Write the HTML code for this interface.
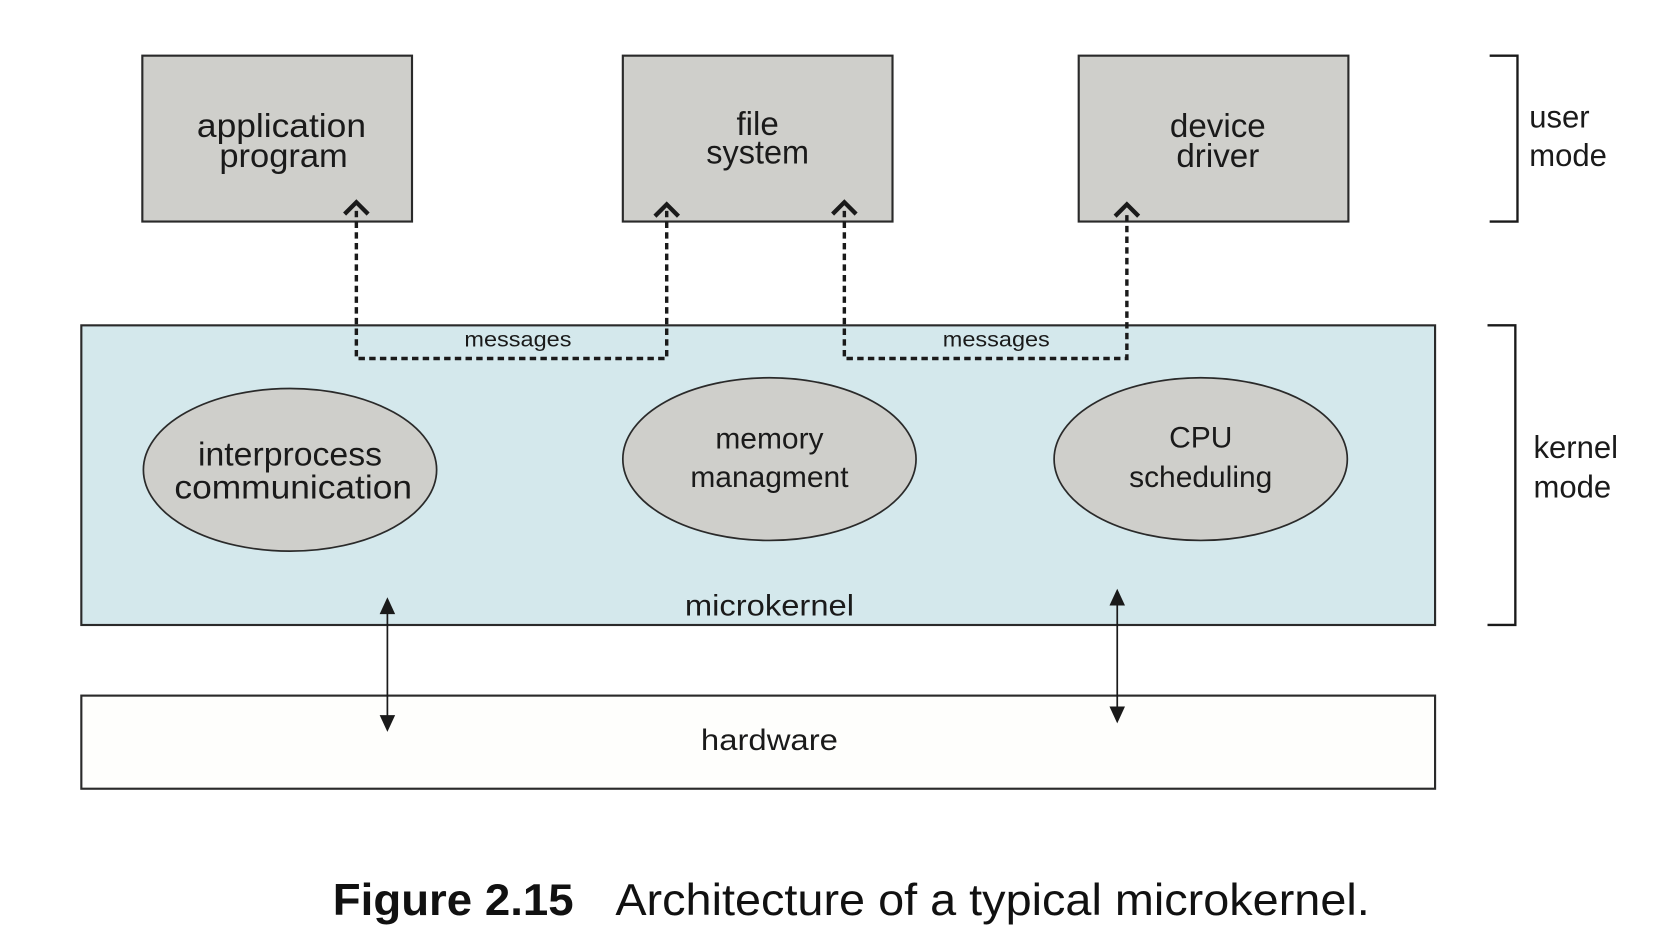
<!DOCTYPE html>
<html><head><meta charset="utf-8"><style>html,body{margin:0;padding:0;background:#fff}svg{display:block}</style></head>
<body>
<svg width="1678" height="930" viewBox="0 0 1568 869" xmlns="http://www.w3.org/2000/svg">
<rect x="0" y="0" width="1568" height="869" fill="#fff"/>
<g stroke="#2a2a2a" stroke-width="2">
<rect x="133" y="52" width="252" height="155" fill="#cfcfcb"/>
<rect x="582" y="52" width="252" height="155" fill="#cfcfcb"/>
<rect x="1008" y="52" width="252" height="155" fill="#cfcfcb"/>
<rect x="76" y="304" width="1265" height="280" fill="#d4e8ec"/>
<rect x="76" y="650" width="1265" height="87" fill="#fefefc"/>
<ellipse cx="271" cy="439" rx="137" ry="76" fill="#cfcfcb" stroke-width="1.6"/>
<ellipse cx="719" cy="429" rx="137" ry="76" fill="#cfcfcb" stroke-width="1.6"/>
<ellipse cx="1122" cy="429" rx="137" ry="76" fill="#cfcfcb" stroke-width="1.6"/>
</g>
<g fill="none" stroke="#1a1a1a" stroke-width="2.2">
<path d="M1392 52 H1418 V207 H1392"/>
<path d="M1390 304 H1416 V584 H1390"/>
</g>
<g fill="none" stroke="#1a1a1a" stroke-width="3.2" stroke-dasharray="6,4">
<path d="M333 197 V335 H623 V197"/>
<path d="M789 197 V335 H1053 V197"/>
</g>
<g fill="none" stroke="#1a1a1a" stroke-width="4">
<path d="M322 200 L333 189 L344 200"/>
<path d="M612 202 L623 191 L634 202"/>
<path d="M778 200 L789 189 L800 200"/>
<path d="M1042 202 L1053 191 L1064 202"/>
</g>
<g stroke="#1a1a1a" stroke-width="1.6" fill="#1a1a1a">
<line x1="362" y1="568" x2="362" y2="672"/>
<path d="M356 573 L362 560 L368 573Z"/>
<path d="M356 669 L362 682 L368 669Z"/>
<line x1="1044" y1="560" x2="1044" y2="664"/>
<path d="M1038 565 L1044 552 L1050 565Z"/>
<path d="M1038 661 L1044 674 L1050 661Z"/>
</g>
<g font-family="'Liberation Sans',sans-serif" fill="#1a1a1a" text-anchor="middle" font-size="31">
<text x="263" y="128" textLength="158" lengthAdjust="spacingAndGlyphs">application</text>
<text x="265" y="156" textLength="120" lengthAdjust="spacingAndGlyphs">program</text>
<text x="708" y="126">file</text>
<text x="708" y="153" textLength="96" lengthAdjust="spacingAndGlyphs">system</text>
<text x="1138" y="128">device</text>
<text x="1138" y="156">driver</text>
<text x="271" y="435" textLength="172" lengthAdjust="spacingAndGlyphs">interprocess</text>
<text x="274" y="466" textLength="222" lengthAdjust="spacingAndGlyphs">communication</text>
</g>
<g font-family="'Liberation Sans',sans-serif" fill="#1a1a1a" text-anchor="middle" font-size="28">
<text x="719" y="419">memory</text>
<text x="719" y="455">managment</text>
<text x="1122" y="418">CPU</text>
<text x="1122" y="455">scheduling</text>
<text x="719" y="575" textLength="158" lengthAdjust="spacingAndGlyphs">microkernel</text>
<text x="719" y="701" textLength="128" lengthAdjust="spacingAndGlyphs">hardware</text>
<text x="484" y="324" font-size="20" textLength="100" lengthAdjust="spacingAndGlyphs">messages</text>
<text x="931" y="324" font-size="20" textLength="100" lengthAdjust="spacingAndGlyphs">messages</text>
</g>
<g font-family="'Liberation Sans',sans-serif" fill="#1a1a1a" font-size="29">
<text x="1429" y="119">user</text>
<text x="1429" y="155">mode</text>
<text x="1433" y="428">kernel</text>
<text x="1433" y="465">mode</text>
</g>
<g font-family="'Liberation Sans',sans-serif" fill="#111" font-size="42">
<text x="311" y="855" font-weight="bold" textLength="225" lengthAdjust="spacingAndGlyphs">Figure 2.15</text>
<text x="575" y="855" textLength="705" lengthAdjust="spacingAndGlyphs">Architecture of a typical microkernel.</text>
</g>
</svg>
</body></html>
